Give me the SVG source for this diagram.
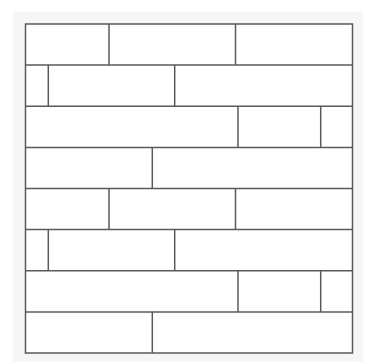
<svg xmlns="http://www.w3.org/2000/svg" width="365" height="364" viewBox="0 0 365 364">
<style>
.l{stroke:#5a5a5a;stroke-width:1.5;fill:none}
</style>
<rect x="0" y="0" width="365" height="364" fill="#ffffff"/>
<rect x="13" y="12" width="350" height="350" fill="#f6f6f6"/>
<rect x="25.5" y="24" width="327" height="329" style="fill:#ffffff"/>
<rect x="25.5" y="24" width="327" height="329" class="l"/>
<g id="rows" class="l">
<line x1="25.5" y1="65.1" x2="352.5" y2="65.1"/>
<line x1="25.5" y1="106.2" x2="352.5" y2="106.2"/>
<line x1="25.5" y1="147.4" x2="352.5" y2="147.4"/>
<line x1="25.5" y1="188.5" x2="352.5" y2="188.5"/>
<line x1="25.5" y1="229.6" x2="352.5" y2="229.6"/>
<line x1="25.5" y1="270.7" x2="352.5" y2="270.7"/>
<line x1="25.5" y1="311.9" x2="352.5" y2="311.9"/>
</g>
<g id="joints" class="l">
<line x1="109" y1="24" x2="109" y2="65.1"/>
<line x1="235.5" y1="24" x2="235.5" y2="65.1"/>
<line x1="48.3" y1="65.1" x2="48.3" y2="106.2"/>
<line x1="174.7" y1="65.1" x2="174.7" y2="106.2"/>
<line x1="238" y1="106.2" x2="238" y2="147.4"/>
<line x1="320.7" y1="106.2" x2="320.7" y2="147.4"/>
<line x1="152.3" y1="147.4" x2="152.3" y2="188.5"/>
<line x1="109" y1="188.5" x2="109" y2="229.6"/>
<line x1="235.5" y1="188.5" x2="235.5" y2="229.6"/>
<line x1="48.3" y1="229.6" x2="48.3" y2="270.7"/>
<line x1="174.7" y1="229.6" x2="174.7" y2="270.7"/>
<line x1="238" y1="270.7" x2="238" y2="311.9"/>
<line x1="320.7" y1="270.7" x2="320.7" y2="311.9"/>
<line x1="152.3" y1="311.9" x2="152.3" y2="353"/>
</g>
</svg>
